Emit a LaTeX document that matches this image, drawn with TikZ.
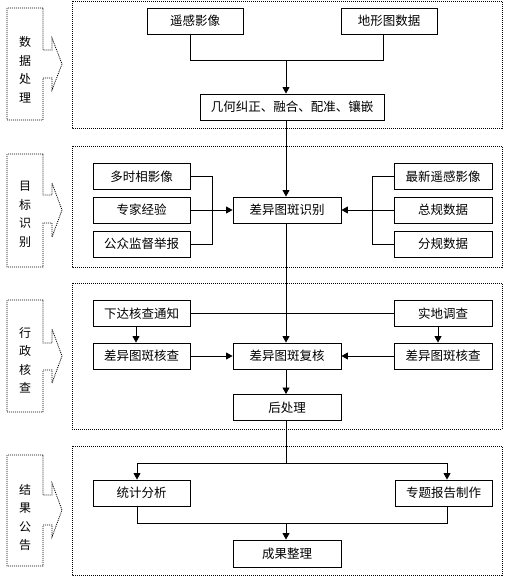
\documentclass[tikz,border=0pt]{standalone}
\usepackage{fontspec}
\newfontfamily\cjk{Noto Sans CJK SC}
\usetikzlibrary{arrows.meta,calc}
\begin{document}
\begin{tikzpicture}[x=1pt,y=-1pt,
  box/.style={draw,line width=0.9pt,inner sep=0pt,minimum height=26pt,font=\cjk\fontsize{12.5}{14}\selectfont},
  link/.style={line width=0.8pt},
  arr/.style={link,-{Triangle[length=6.5pt,width=7pt]}},
  region/.style={line width=0.8pt,dash pattern=on 1pt off 1pt},
  side/.style={align=center,inner sep=0pt,font=\cjk\fontsize{12}{18.5}\selectfont}]
\useasboundingbox (0,0) rectangle (508,583);
% regions
\draw[region] (72,1) rectangle (502,128);
\draw[region] (72,146) rectangle (502,267);
\draw[region] (72,283) rectangle (502,429);
\draw[region] (72,446) rectangle (502,575);
% callouts
\draw[region] (43,8) -- (7,8) -- (7,120) -- (43,120) -- (43,78) -- (52,78) -- (52,90) -- (62,64) -- (52,38) -- (52,50) -- (43,50) -- cycle;
\draw[region] (43,154) -- (7,154) -- (7,267) -- (43,267) -- (43,223) -- (52,223) -- (52,237) -- (62,210) -- (52,183) -- (52,195) -- (43,195) -- cycle;
\draw[region] (43,300) -- (7,300) -- (7,412) -- (43,412) -- (43,370) -- (52,370) -- (52,383) -- (62,356) -- (52,329) -- (52,343) -- (43,343) -- cycle;
\draw[region] (43,455) -- (7,455) -- (7,566) -- (43,566) -- (43,525) -- (52,525) -- (52,537) -- (62,510) -- (52,483) -- (52,495) -- (43,495) -- cycle;
\node[side] (s1) at (25,69.5) {数\\据\\处\\理};
\node[side] (s2) at (25,214.5) {目\\标\\识\\别};
\node[side] (s3) at (25,360) {行\\政\\核\\查};
\node[side] (s4) at (25,517.5) {结\\果\\公\\告};
% boxes
\node[box,minimum width=96pt] (rs) at (195,21) {遥感影像};
\node[box,minimum width=96pt] (topo) at (389,21) {地形图数据};
\node[box,minimum width=184pt] (geo) at (292,107) {几何纠正、融合、配准、镶嵌};
\node[box,minimum width=97pt] (mt) at (141.5,176.5) {多时相影像};
\node[box,minimum width=97pt] (ex) at (141.5,210) {专家经验};
\node[box,minimum width=97pt] (pub) at (141.5,244) {公众监督举报};
\node[box,minimum width=108pt] (iden) at (287,210) {差异图斑识别};
\node[box,minimum width=98pt] (new) at (443,176.5) {最新遥感影像};
\node[box,minimum width=98pt] (zg) at (443,210) {总规数据};
\node[box,minimum width=98pt] (fg) at (443,244) {分规数据};
\node[box,minimum width=97pt] (notice) at (141.5,313.5) {下达核查通知};
\node[box,minimum width=97pt] (chkL) at (141.5,356) {差异图斑核查};
\node[box,minimum width=108pt] (review) at (287,356) {差异图斑复核};
\node[box,minimum width=98pt] (field) at (443,313.5) {实地调查};
\node[box,minimum width=98pt] (chkR) at (443,356) {差异图斑核查};
\node[box,minimum width=108pt] (post) at (287,407.5) {后处理};
\node[box,minimum width=97pt] (stat) at (141.5,493) {统计分析};
\node[box,minimum width=97pt] (rep) at (443.5,493) {专题报告制作};
\node[box,minimum width=108pt,minimum height=27pt] (res) at (287,553.5) {成果整理};
% junctions
\coordinate (j1) at (286,60);
\coordinate (j2) at (212,210);
\coordinate (j3) at (372,210);
\coordinate (j4) at (286,463);
\coordinate (j5) at (286,523);
% connectors
\draw[link] ([xshift=-5pt]rs.south) |- (j1);
\draw[link] ([xshift=-6pt]topo.south) |- (j1);
\draw[arr] (j1) -- (geo.north -| j1);
\draw[arr] (geo.south -| j1) -- (iden.north -| j1);
\draw[link] (mt.east) -| (j2);
\draw[link] (pub.east) -| (j2);
\draw[arr] (ex.east) -- (iden.west);
\draw[link] (new.west) -| (j3);
\draw[link] (fg.west) -| (j3);
\draw[arr] (zg.west) -- (iden.east);
\draw[arr] (iden.south -| j1) -- (review.north -| j1);
\draw[link] (notice.east) -- (field.west);
\draw[arr] ([xshift=-5.5pt]notice.south) -- ([xshift=-5.5pt]chkL.north);
\draw[arr] ([xshift=-5pt]field.south) -- ([xshift=-5pt]chkR.north);
\draw[arr] (chkL.east) -- (review.west);
\draw[arr] (chkR.west) -- (review.east);
\draw[arr] (review.south -| j1) -- (post.north -| j1);
\draw[link] (post.south -| j1) -- (j4);
\draw[arr] (j4) -| ([xshift=-4.5pt]stat.north);
\draw[arr] (j4) -| ([xshift=3.5pt]rep.north);
\draw[link] ([xshift=-4.5pt]stat.south) |- (j5);
\draw[link] ([xshift=3.5pt]rep.south) |- (j5);
\draw[arr] (j5) -- (res.north -| j5);
\end{tikzpicture}
\end{document}
